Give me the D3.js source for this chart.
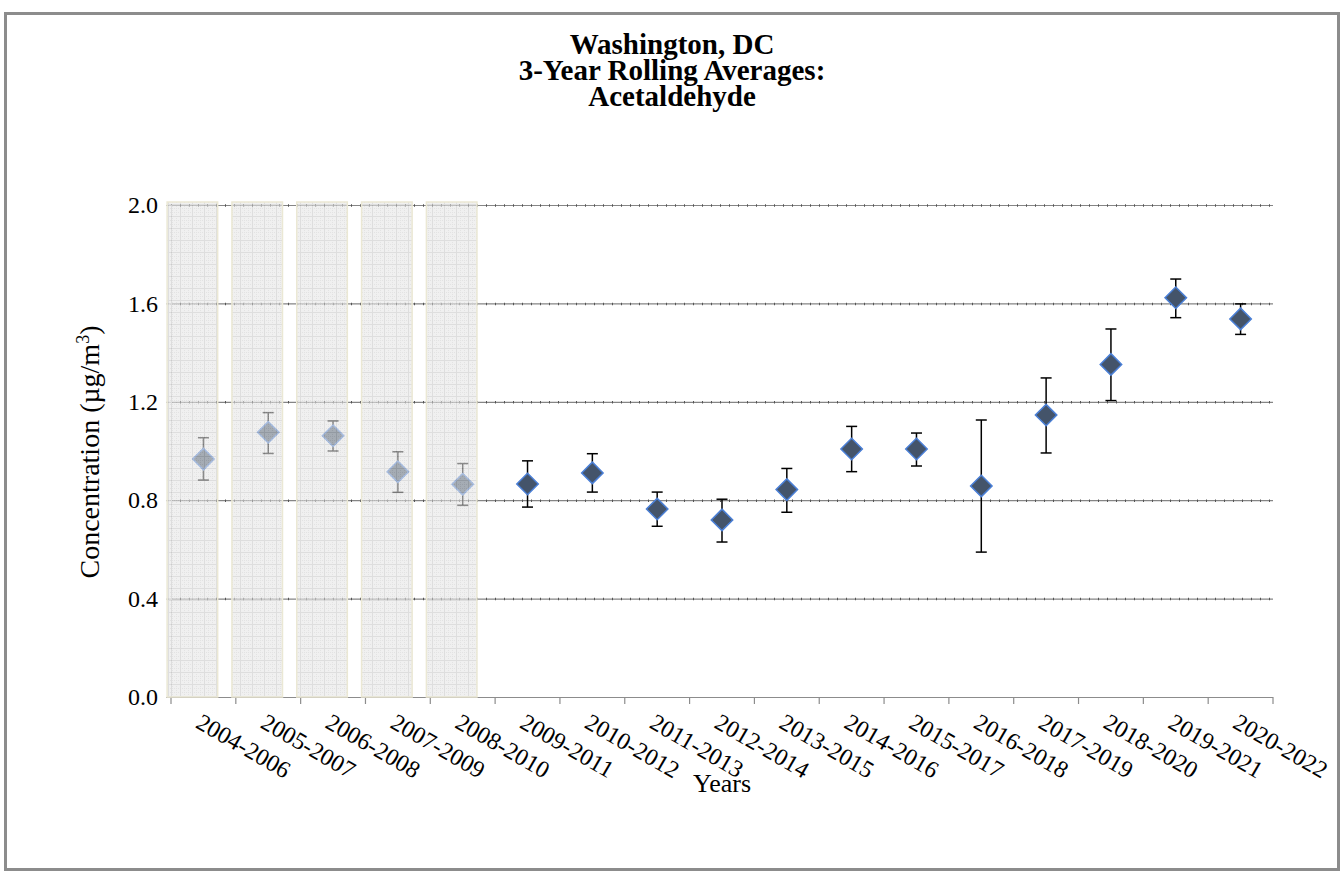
<!DOCTYPE html>
<html>
<head>
<meta charset="utf-8">
<script src="https://cdn.jsdelivr.net/npm/d3@7/dist/d3.min.js"></script>
<style>
  body { margin: 0; background: #fff; }
</style>
</head>
<body>
<div id="chart"></div>
<script>
// 3-year rolling averages, acetaldehyde, Washington DC
var periods = ["2004-2006","2005-2007","2006-2008","2007-2009","2008-2010","2009-2011",
               "2010-2012","2011-2013","2012-2014","2013-2015","2014-2016","2015-2017",
               "2016-2018","2017-2019","2018-2020","2019-2021","2020-2022"];
var averages = [0.967,1.076,1.062,0.916,0.865,0.866,0.911,0.764,0.720,0.843,1.008,1.008,
                0.858,1.146,1.352,1.623,1.537];
var lowerCI  = [0.882,0.990,1.000,0.832,0.779,0.772,0.833,0.694,0.630,0.751,0.916,0.939,
                0.589,0.992,1.205,1.542,1.474];
var upperCI  = [1.054,1.156,1.122,0.997,0.949,0.960,0.989,0.833,0.804,0.929,1.100,1.073,
                1.126,1.297,1.496,1.699,1.598];
// periods greyed out (incomplete data)
var shadedPeriods = ["2004-2006","2005-2007","2006-2008","2007-2009","2008-2010"];
var yTicks = [0, 0.4, 0.8, 1.2, 1.6, 2.0];
var titleLines = ["Washington, DC", "3-Year Rolling Averages:", "Acetaldehyde"];

var FONT = "Liberation Serif, Times New Roman, serif";
var W = 1343, H = 873;
var margin = {left: 171, right: 70, top: 205, bottom: 176};

var svg = d3.select("#chart").append("svg").attr("width", W).attr("height", H)
    .attr("font-family", FONT);

var defs = svg.append("defs");
var pat = defs.append("pattern").attr("id", "grid").attr("patternUnits", "userSpaceOnUse")
    .attr("width", 12).attr("height", 12);
pat.append("rect").attr("width", 12).attr("height", 12).attr("fill", "#e6e6e6");
pat.append("path").attr("d", "M0 0.5H12M0 4.5H12M0 8.5H12").attr("stroke", "#d0d0d0").attr("stroke-width", 1).attr("stroke-dasharray", "1,1");
pat.append("path").attr("d", "M0.5 0V12M4.5 0V12M8.5 0V12").attr("stroke", "#d0d0d0").attr("stroke-width", 1).attr("stroke-dasharray", "1,1");
pat.append("path").attr("d", "M0 0.5H12M0.5 0V12").attr("stroke", "#c8c8c8").attr("stroke-width", 1);

// outer frame
svg.append("rect").attr("x", 5.5).attr("y", 13.5).attr("width", 1333).attr("height", 856)
    .attr("fill", "none").attr("stroke", "#8c8c8c").attr("stroke-width", 3);

var x = d3.scaleBand().domain(periods).range([margin.left, W - margin.right]).padding(0);
var y = d3.scaleLinear().domain([0, 2.0]).range([H - margin.bottom, margin.top]);

// title
var title = svg.append("text").attr("text-anchor", "middle").attr("font-weight", "bold")
    .attr("font-size", 29).attr("font-family", FONT);
titleLines.forEach(function(t, i) {
    title.append("tspan").attr("x", 672).attr("y", 54 + i * 26).text(t);
});

// gridlines
var gridVals = yTicks.filter(function(d){return d > 0;});
svg.append("g").selectAll("line").data(gridVals).enter().append("line")
    .attr("x1", margin.left).attr("x2", W - margin.right)
    .attr("y1", function(d){return y(d) + 0.5;}).attr("y2", function(d){return y(d) + 0.5;})
    .attr("stroke", "#858585").attr("stroke-width", 1.2);
svg.append("g").selectAll("line").data(gridVals).enter().append("line")
    .attr("x1", margin.left).attr("x2", W - margin.right)
    .attr("y1", function(d){return y(d) + 0.5;}).attr("y2", function(d){return y(d) + 0.5;})
    .attr("stroke", "#555").attr("stroke-width", 2.5).attr("stroke-dasharray", "1,8");

// y axis
var yAxis = d3.axisLeft(y).tickValues(yTicks).tickFormat(d3.format(".1f")).tickSize(5).tickPadding(8);
var yg = svg.append("g").attr("transform", "translate(" + margin.left + ",0)").call(yAxis);
yg.attr("font-family", FONT);
yg.select(".domain").attr("stroke", "#d0d0d0");
yg.selectAll(".tick line").attr("stroke", "#aaa");
yg.selectAll("text").attr("font-size", 24).attr("font-family", FONT).attr("fill", "#000");

// x axis
var xg = svg.append("g").attr("transform", "translate(0," + y(0) + ")");
xg.append("line").attr("x1", margin.left).attr("x2", W - margin.right).attr("y1", 0.5).attr("y2", 0.5)
    .attr("stroke", "#8c8c8c").attr("stroke-width", 1.2);
xg.selectAll(".xt").data(periods.concat(["end"])).enter().append("line").attr("class", "xt")
    .attr("x1", function(d, i){return margin.left + i * x.bandwidth();})
    .attr("x2", function(d, i){return margin.left + i * x.bandwidth();})
    .attr("y1", 0).attr("y2", 7).attr("stroke", "#8c8c8c").attr("stroke-width", 1.2);
xg.selectAll(".xl").data(periods).enter().append("text").attr("class", "xl")
    .attr("font-size", 24).attr("font-family", FONT)
    .attr("transform", function(d){return "translate(" + (x(d) + x.bandwidth() / 2 - 9) + ",30) rotate(30)";})
    .text(function(d){return d;});

// error bars
var pts = periods.map(function(p, i){return {p: p, v: averages[i], lo: lowerCI[i], hi: upperCI[i]};});
var bars = svg.append("g").selectAll("g").data(pts).enter().append("g")
    .attr("transform", function(d){return "translate(" + (x(d.p) + x.bandwidth() / 2) + ",0)";});
bars.append("line").attr("y1", function(d){return y(d.lo);}).attr("y2", function(d){return y(d.hi);})
    .attr("stroke", "#000").attr("stroke-width", 1.5);
bars.append("line").attr("x1", -5.5).attr("x2", 5.5).attr("y1", function(d){return y(d.lo);}).attr("y2", function(d){return y(d.lo);})
    .attr("stroke", "#000").attr("stroke-width", 1.5);
bars.append("line").attr("x1", -5.5).attr("x2", 5.5).attr("y1", function(d){return y(d.hi);}).attr("y2", function(d){return y(d.hi);})
    .attr("stroke", "#000").attr("stroke-width", 1.5);

// diamonds
var diamond = d3.symbol().type(d3.symbolSquare).size(230);
svg.append("g").selectAll("path").data(pts).enter().append("path")
    .attr("d", diamond)
    .attr("transform", function(d){return "translate(" + (x(d.p) + x.bandwidth() / 2) + "," + y(d.v) + ") rotate(45)";})
    .attr("fill", "#44546a").attr("stroke", "#4a7fd6").attr("stroke-width", 1.5);

// shaded overlay on incomplete periods
svg.append("g").selectAll("rect").data(shadedPeriods).enter().append("rect")
    .attr("x", function(d){return x(d) - 0.06 * x.bandwidth();})
    .attr("width", 0.78 * x.bandwidth())
    .attr("y", y(2.0) - 3).attr("height", y(0) - y(2.0) + 3)
    .attr("fill", "url(#grid)").attr("fill-opacity", 0.6)
    .attr("stroke", "#ebe8d4").attr("stroke-width", 1.5);

// axis titles
svg.append("text").attr("text-anchor", "middle").attr("font-size", 28).attr("font-family", FONT)
    .attr("transform", "translate(99,452) rotate(-90)")
    .html('Concentration (µg/m<tspan baseline-shift="super" font-size="18">3</tspan>)');
svg.append("text").attr("text-anchor", "middle").attr("font-size", 26).attr("font-family", FONT)
    .attr("x", 722).attr("y", 792).text("Years");
</script>
</body>
</html>
